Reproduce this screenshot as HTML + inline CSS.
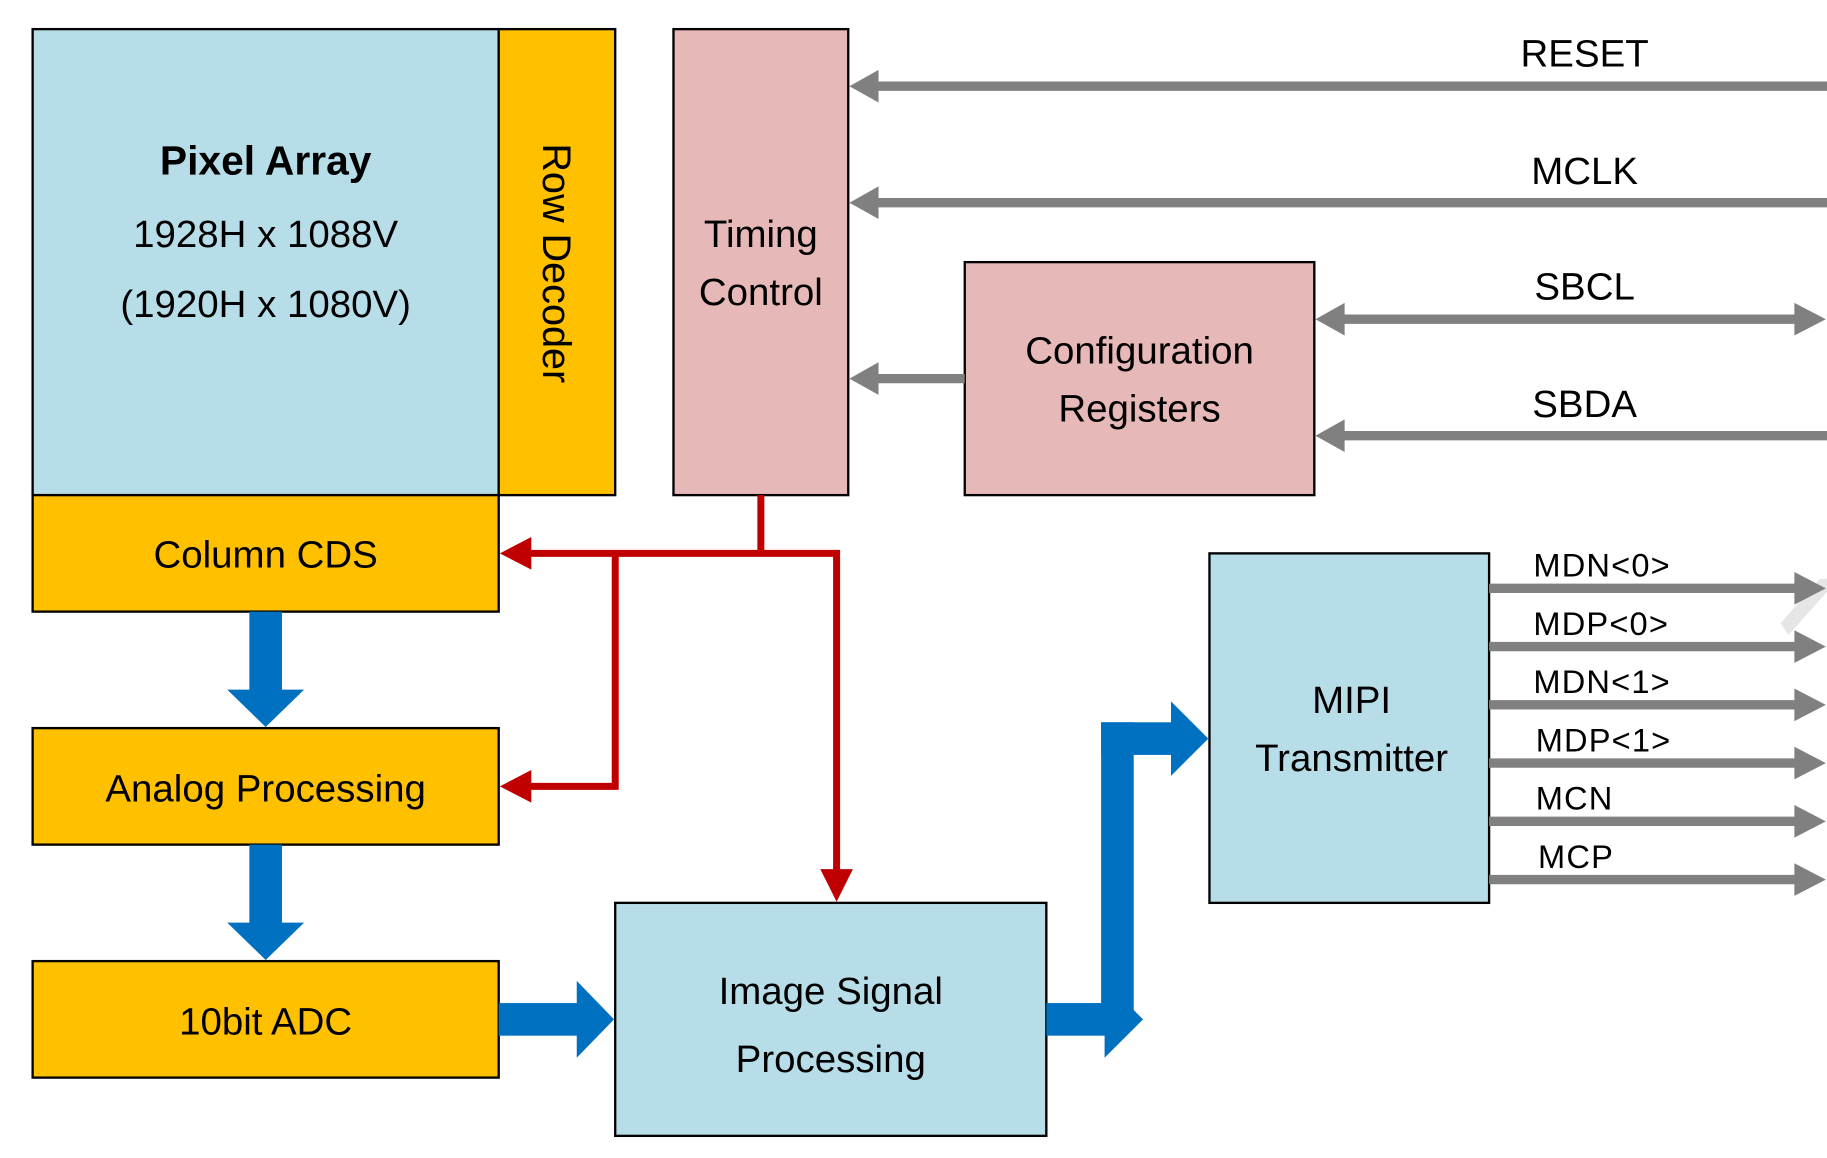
<!DOCTYPE html>
<html><head><meta charset="utf-8"><style>
html,body{margin:0;padding:0;background:#fff;}
svg{display:block;}
text{font-family:"Liberation Sans","DejaVu Sans",sans-serif;fill:#000;}
</style></head><body>
<svg width="1827" height="1158" viewBox="0 0 1568 994" preserveAspectRatio="none" xmlns="http://www.w3.org/2000/svg">
<g stroke="#000" stroke-width="2">
<rect x="28" y="25" width="400" height="400" fill="#b7dde8"/>
<rect x="428" y="25" width="100" height="400" fill="#ffc000"/>
<rect x="578" y="25" width="150" height="400" fill="#e6b8b7"/>
<rect x="828" y="225" width="300" height="200" fill="#e6b8b7"/>
<rect x="28" y="425" width="400" height="100" fill="#ffc000"/>
<rect x="28" y="625" width="400" height="100" fill="#ffc000"/>
<rect x="28" y="825" width="400" height="100" fill="#ffc000"/>
<rect x="528" y="775" width="370" height="200" fill="#b7dde8"/>
<rect x="1038" y="475" width="240" height="300" fill="#b7dde8"/>
</g>
<g font-size="33" text-anchor="middle">
<text x="228" y="150" font-weight="bold" font-size="35">Pixel Array</text>
<text x="228" y="212">1928H x 1088V</text>
<text x="228" y="272">(1920H x 1080V)</text>
<text transform="translate(466,226) rotate(90)" font-size="34">Row Decoder</text>
<text x="653" y="212">Timing</text>
<text x="653" y="262">Control</text>
<text x="978" y="312">Configuration</text>
<text x="978" y="362">Registers</text>
<text x="228" y="487">Column CDS</text>
<text x="228" y="688">Analog Processing</text>
<text x="228" y="888">10bit ADC</text>
<text x="713" y="862">Image Signal</text>
<text x="713" y="920">Processing</text>
<text x="1160" y="612">MIPI</text>
<text x="1160" y="662">Transmitter</text>
<text x="1360" y="57">RESET</text>
<text x="1360" y="158">MCLK</text>
<text x="1360" y="257">SBCL</text>
<text x="1360" y="358">SBDA</text>
</g>
<g font-size="28" letter-spacing="1">
<text x="1316" y="495">MDN&lt;0&gt;</text>
<text x="1316" y="545">MDP&lt;0&gt;</text>
<text x="1316" y="595">MDN&lt;1&gt;</text>
<text x="1318" y="645">MDP&lt;1&gt;</text>
<text x="1318" y="695">MCN</text>
<text x="1320" y="745">MCP</text>
</g>
<g stroke="#808080" stroke-width="8">
<line x1="1568" y1="74" x2="750" y2="74"/>
<line x1="1568" y1="174" x2="750" y2="174"/>
<line x1="828" y1="325" x2="750" y2="325"/>
<line x1="1150" y1="274" x2="1545" y2="274"/>
<line x1="1568" y1="374" x2="1150" y2="374"/>
<line x1="1278" y1="505" x2="1545" y2="505"/>
<line x1="1278" y1="555" x2="1545" y2="555"/>
<line x1="1278" y1="605" x2="1545" y2="605"/>
<line x1="1278" y1="655" x2="1545" y2="655"/>
<line x1="1278" y1="705" x2="1545" y2="705"/>
<line x1="1278" y1="755" x2="1545" y2="755"/>
</g>
<polygon points="1528,535 1562,497 1568,497 1568,508 1535,545" fill="#e6e6e6"/>
<g fill="#808080">
<polygon points="729,74 754,60 754,88"/>
<polygon points="729,174 754,160 754,188"/>
<polygon points="729,325 754,311 754,339"/>
<polygon points="1129,274 1154,260 1154,288"/>
<polygon points="1567,274 1540,260 1540,288"/>
<polygon points="1129,374 1154,360 1154,388"/>
<polygon points="1567,505 1540,491 1540,519"/>
<polygon points="1567,555 1540,541 1540,569"/>
<polygon points="1567,605 1540,591 1540,619"/>
<polygon points="1567,655 1540,641 1540,669"/>
<polygon points="1567,705 1540,691 1540,719"/>
<polygon points="1567,755 1540,741 1540,769"/>
</g>
<g stroke="#c00000" stroke-width="6" fill="none">
<polyline points="653,425 653,475"/>
<polyline points="448,475 718,475 718,750"/>
<polyline points="528,475 528,675 448,675"/>
</g>
<g fill="#c00000">
<polygon points="429,475 456,461 456,489"/>
<polygon points="429,675 456,661 456,689"/>
<polygon points="718,774 704,746 732,746"/>
</g>
<g fill="#0070c0">
<rect x="214" y="525" width="28" height="68"/>
<polygon points="195,592 261,592 228,624"/>
<rect x="214" y="725" width="28" height="68"/>
<polygon points="195,792 261,792 228,824"/>
<rect x="428" y="861" width="68" height="28"/>
<polygon points="495,842 495,908 527,875"/>
<rect x="898" y="861" width="52" height="28"/>
<polygon points="948,842 948,908 981,875"/>
<rect x="945" y="620" width="28" height="255"/>
<rect x="945" y="620" width="62" height="28"/>
<polygon points="1005,602 1005,666 1037,634"/>
</g>
</svg>
</body></html>
